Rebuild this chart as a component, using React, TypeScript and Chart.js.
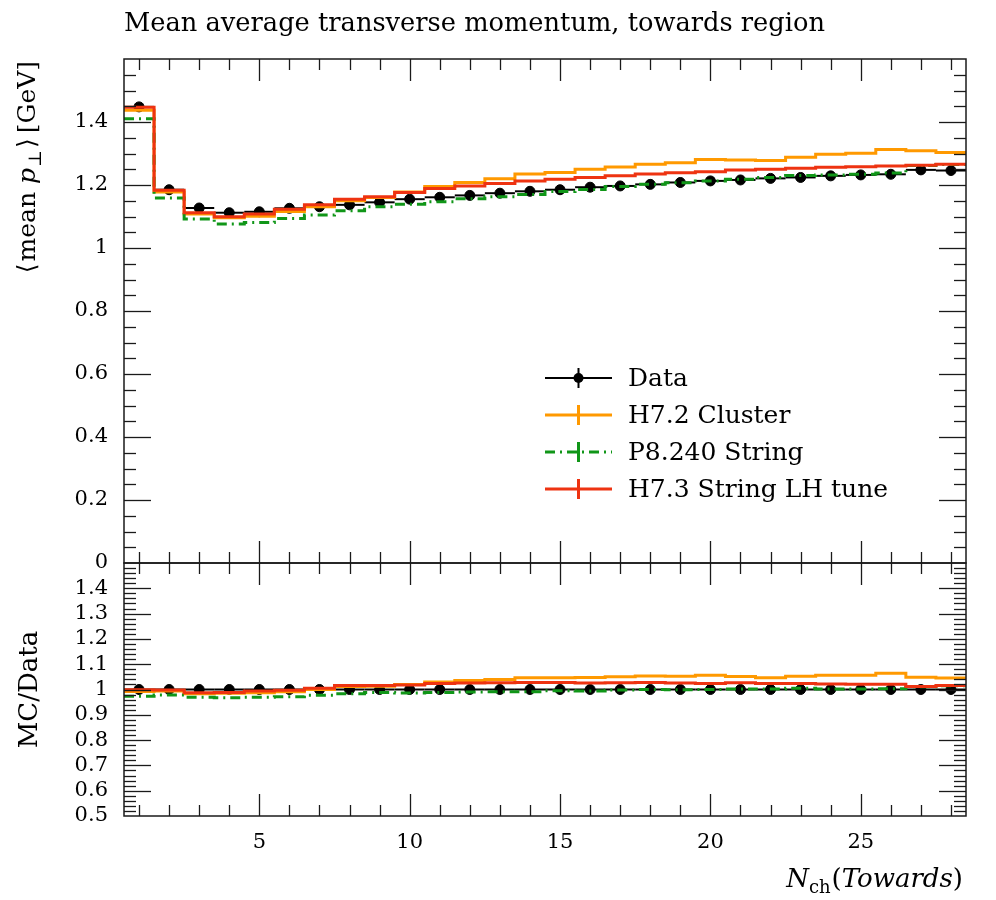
import React, { useEffect, useRef } from "react";
import { Chart, registerables } from "chart.js";

Chart.register(...registerables);

// ---------- data ----------
const BIN_CENTERS = [
  1, 2, 3, 4, 5, 6, 7, 8, 9, 10, 11, 12, 13, 14, 15, 16, 17, 18, 19, 20, 21, 22, 23, 24, 25, 26, 27, 28,
];
const DATA = [
  1.448, 1.185, 1.127, 1.112, 1.115, 1.126, 1.131, 1.137, 1.145, 1.155, 1.161, 1.167, 1.174, 1.18,
  1.185, 1.193, 1.197, 1.202, 1.208, 1.213, 1.216, 1.221, 1.224, 1.229, 1.232, 1.234, 1.248, 1.246,
];
const H72_CLUSTER = [
  1.437, 1.178, 1.108, 1.096, 1.101, 1.116, 1.131, 1.15, 1.16, 1.178, 1.195, 1.208, 1.22, 1.235,
  1.24, 1.25, 1.257, 1.266, 1.271, 1.281, 1.279, 1.278, 1.288, 1.298, 1.301, 1.313, 1.309, 1.303,
];
const P8_STRING = [
  1.41, 1.159, 1.092, 1.076, 1.081, 1.094, 1.105, 1.118, 1.131, 1.139, 1.147, 1.156, 1.163, 1.17,
  1.179, 1.186, 1.195, 1.202, 1.207, 1.213, 1.218, 1.224, 1.23, 1.232, 1.234, 1.238, 1.262, 1.265,
];
const H73_STRING_LH = [
  1.447, 1.183, 1.112, 1.099, 1.108, 1.123, 1.137, 1.155, 1.163, 1.176, 1.189, 1.197, 1.205, 1.213,
  1.218, 1.224, 1.229, 1.235, 1.239, 1.242, 1.248, 1.25, 1.253, 1.256, 1.258, 1.26, 1.263, 1.266,
];
const X_TICK_LABELS = [5, 10, 15, 20, 25];
const Y_MAIN_TICKS = [0, 0.2, 0.4, 0.6, 0.8, 1, 1.2, 1.4];
const Y_RATIO_TICKS = [0.5, 0.6, 0.7, 0.8, 0.9, 1, 1.1, 1.2, 1.3, 1.4];
const LEGEND_LABELS = ["Data", "H7.2 Cluster", "P8.240 String", "H7.3 String LH tune"];
const TITLE = "Mean average transverse momentum, towards region";
const RATIO_LABEL = "MC/Data";

// ---------- styles ----------
const FONT = '"DejaVu Serif", "Liberation Serif", serif';
const C_DATA = "#000000";
const C_H72 = "#ff9900";
const C_P8 = "#109618";
const C_H73 = "#ee3311";
const DASH_P8 = [10, 5, 2, 5];

type Seg = { t: string; italic?: boolean; sub?: boolean; gap?: number };
const Y_LABEL: Seg[] = [
  { t: "\u27E8", gap: 2 },
  { t: "mean " },
  { t: "p", italic: true, gap: 1 },
  { t: "\u22A5", sub: true, gap: 2 },
  { t: "\u27E9", gap: 5 },
  { t: "[GeV]" },
];
const X_LABEL: Seg[] = [
  { t: "N", italic: true },
  { t: "ch", sub: true, gap: 1 },
  { t: "(" },
  { t: "Towards", italic: true },
  { t: ")" },
];

function stepPoints(vals: number[]) {
  const pts = BIN_CENTERS.map((c, i) => ({ x: c - 0.5, y: vals[i] }));
  pts.push({ x: BIN_CENTERS[BIN_CENTERS.length - 1] + 0.5, y: vals[vals.length - 1] });
  return pts;
}
const ratioOf = (vals: number[]) => vals.map((v, i) => v / DATA[i]);
const fmt = (v: number) => String(Math.round(v * 1000) / 1000);

function segFont(s: Seg, size: number) {
  return `${s.italic ? "italic " : ""}${s.sub ? Math.round(size * 0.7) : size}px ${FONT}`;
}
function segsWidth(ctx: CanvasRenderingContext2D, segs: Seg[], size: number) {
  let w = 0;
  for (const s of segs) {
    ctx.font = segFont(s, size);
    w += ctx.measureText(s.t).width + (s.gap || 0);
  }
  return w;
}
function drawSegs(ctx: CanvasRenderingContext2D, segs: Seg[], size: number, x: number, y: number) {
  let cx = x;
  for (const s of segs) {
    ctx.font = segFont(s, size);
    ctx.fillText(s.t, cx, y + (s.sub ? size * 0.22 : 0));
    cx += ctx.measureText(s.t).width + (s.gap || 0);
  }
}

function line(ctx: CanvasRenderingContext2D, x1: number, y1: number, x2: number, y2: number) {
  ctx.beginPath();
  ctx.moveTo(x1, y1);
  ctx.lineTo(x2, y2);
  ctx.stroke();
}

const rivetPlugin = {
  id: "rivet",
  beforeDatasetsDraw(chart: any) {
    const ctx: CanvasRenderingContext2D = chart.ctx;
    const xs = chart.scales.x;
    const ys = chart.scales.y;
    const yr = chart.scales.yr;
    ctx.save();
    ctx.strokeStyle = C_DATA;
    ctx.lineWidth = 2;
    BIN_CENTERS.forEach((c, i) => {
      const x1 = xs.getPixelForValue(c - 0.5);
      const x2 = xs.getPixelForValue(c + 0.5);
      const y = ys.getPixelForValue(DATA[i]);
      line(ctx, x1, y, x2, y);
      const y2 = yr.getPixelForValue(DATA[i] / DATA[i]);
      line(ctx, x1, y2, x2, y2);
    });
    ctx.restore();
  },
  afterDraw(chart: any) {
    const ctx: CanvasRenderingContext2D = chart.ctx;
    const { left, right } = chart.chartArea;
    const xs = chart.scales.x;
    const ys = chart.scales.y;
    const yr = chart.scales.yr;
    ctx.save();
    ctx.strokeStyle = "#1a1a1a";
    const panels = [
      { s: ys, min: 0, max: 1.6, step: 0.05, every: 4 },
      { s: yr, min: 0.5, max: 1.5, step: 0.02, every: 5 },
    ];
    for (const p of panels) {
      const top = p.s.top;
      const bottom = p.s.bottom;
      ctx.lineWidth = 1.3;
      const n = Math.round((p.max - p.min) / p.step);
      for (let k = 1; k < n; k++) {
        const y = Math.round(p.s.getPixelForValue(p.min + k * p.step)) + 0.5;
        const len = k % p.every === 0 ? 27 : 12;
        line(ctx, left, y, left + len, y);
        line(ctx, right, y, right - len, y);
      }
      for (let c = 1; c <= 28; c++) {
        const x = Math.round(xs.getPixelForValue(c)) + 0.5;
        const len = c % 5 === 0 ? 22 : 11;
        line(ctx, x, top, x, top + len);
        line(ctx, x, bottom, x, bottom - len);
      }
      ctx.lineWidth = 1.5;
      ctx.strokeRect(left, top, right - left, bottom - top);
    }

    // legend
    const lx1 = left + 421;
    const lx2 = left + 488;
    const lxc = (lx1 + lx2) / 2;
    const ly0 = ys.top + 319;
    const rowH = 37;
    const styles = [
      { c: C_DATA, w: 2, dash: [] as number[] },
      { c: C_H72, w: 3, dash: [] as number[] },
      { c: C_P8, w: 3, dash: DASH_P8 },
      { c: C_H73, w: 3, dash: [] as number[] },
    ];
    LEGEND_LABELS.forEach((lab, i) => {
      const y = ly0 + i * rowH;
      const st = styles[i];
      ctx.strokeStyle = st.c;
      ctx.lineWidth = st.w;
      ctx.setLineDash(st.dash);
      line(ctx, lx1, y, lx2, y);
      ctx.setLineDash([]);
      line(ctx, lxc, y - 10, lxc, y + 10);
      if (i === 0) {
        ctx.fillStyle = C_DATA;
        ctx.beginPath();
        ctx.arc(lxc, y, 5, 0, Math.PI * 2);
        ctx.fill();
      }
      ctx.fillStyle = "#000";
      ctx.font = `25px ${FONT}`;
      ctx.textBaseline = "middle";
      ctx.textAlign = "left";
      ctx.fillText(lab, left + 504, y + 1);
    });

    // axis labels
    ctx.fillStyle = "#000";
    ctx.textBaseline = "alphabetic";
    ctx.textAlign = "left";
    const size = 25;
    const wy = segsWidth(ctx, Y_LABEL, size);
    ctx.save();
    ctx.translate(35, ys.top + 2 + wy);
    ctx.rotate(-Math.PI / 2);
    drawSegs(ctx, Y_LABEL, size, 0, 0);
    ctx.restore();
    ctx.save();
    ctx.font = `26px ${FONT}`;
    ctx.translate(37, (yr.top + yr.bottom) / 2);
    ctx.rotate(-Math.PI / 2);
    ctx.textAlign = "center";
    ctx.fillText(RATIO_LABEL, 0, 0);
    ctx.restore();
    const wx = segsWidth(ctx, X_LABEL, 26);
    drawSegs(ctx, X_LABEL, 26, right - 3 - wx, 887);
    ctx.restore();
  },
};

export default function App() {
  const ref = useRef<HTMLCanvasElement>(null);
  useEffect(() => {
    if (!ref.current) return;
    const tickFont = { family: FONT, size: 21 };
    const mcStep = (label: string, vals: number[], color: string, order: number, axis: string, dash: number[] = []) => ({
      label,
      data: stepPoints(vals),
      yAxisID: axis,
      borderColor: color,
      backgroundColor: color,
      borderWidth: 3,
      borderDash: dash,
      stepped: true,
      pointRadius: 0,
      fill: false,
      order,
    });
    const dataPts = (vals: number[], axis: string) => ({
      label: "Data",
      data: BIN_CENTERS.map((c, i) => ({ x: c, y: vals[i] })),
      yAxisID: axis,
      showLine: false,
      pointRadius: 5,
      pointBackgroundColor: C_DATA,
      pointBorderColor: C_DATA,
      borderColor: C_DATA,
      backgroundColor: C_DATA,
      order: 10,
    });
    const chart = new Chart(ref.current, {
      type: "line",
      data: {
        datasets: [
          dataPts(DATA, "y"),
          mcStep("H7.2 Cluster", H72_CLUSTER, C_H72, 3, "y"),
          mcStep("P8.240 String", P8_STRING, C_P8, 2, "y", DASH_P8),
          mcStep("H7.3 String LH tune", H73_STRING_LH, C_H73, 1, "y"),
          dataPts(ratioOf(DATA), "yr"),
          mcStep("H7.2 Cluster", ratioOf(H72_CLUSTER), C_H72, 3, "yr"),
          mcStep("P8.240 String", ratioOf(P8_STRING), C_P8, 2, "yr", DASH_P8),
          mcStep("H7.3 String LH tune", ratioOf(H73_STRING_LH), C_H73, 1, "yr"),
        ] as any,
      },
      options: {
        responsive: false,
        animation: false,
        devicePixelRatio: 1,
        layout: { padding: { left: 0, right: 30, top: 0, bottom: 0 } },
        plugins: {
          legend: { display: false },
          tooltip: { enabled: false },
          title: {
            display: true,
            text: TITLE,
            align: "start",
            fullSize: false,
            color: "#000",
            font: { family: FONT, size: 25.7, weight: "normal" },
            padding: { top: 8.5, bottom: 19.66 },
          },
        },
        scales: {
          x: {
            type: "linear",
            min: 0.5,
            max: 28.5,
            afterBuildTicks: (s: any) => {
              s.ticks = X_TICK_LABELS.map((v) => ({ value: v }));
            },
            afterFit: (s: any) => {
              s.height = 84;
            },
            grid: { display: false, drawTicks: false },
            border: { display: false },
            ticks: { color: "#000", font: tickFont, padding: 14, maxRotation: 0, autoSkip: false, callback: (v: any) => fmt(Number(v)) },
          },
          y: {
            type: "linear",
            position: "left",
            stack: "v",
            stackWeight: 504,
            weight: 2,
            min: 0,
            max: 1.6,
            afterBuildTicks: (s: any) => {
              s.ticks = Y_MAIN_TICKS.map((v) => ({ value: v }));
            },
            afterFit: (s: any) => {
              s.width = 124;
            },
            grid: { display: false, drawTicks: false },
            border: { display: false },
            ticks: { color: "#000", font: tickFont, padding: 16, autoSkip: false, callback: (v: any) => fmt(Number(v)) },
          },
          yr: {
            type: "linear",
            position: "left",
            stack: "v",
            stackWeight: 253,
            weight: 1,
            min: 0.5,
            max: 1.5,
            afterBuildTicks: (s: any) => {
              s.ticks = Y_RATIO_TICKS.map((v) => ({ value: v }));
            },
            afterFit: (s: any) => {
              s.width = 124;
            },
            grid: { display: false, drawTicks: false },
            border: { display: false },
            ticks: { color: "#000", font: tickFont, padding: 16, autoSkip: false, callback: (v: any) => fmt(Number(v)) },
          },
        },
      } as any,
      plugins: [rivetPlugin],
    });
    return () => chart.destroy();
  }, []);
  return (
    <div style={{ position: "absolute", left: 0, top: 0, width: 996, height: 900, background: "#fff" }}>
      <canvas ref={ref} width={996} height={900} style={{ width: 996, height: 900, display: "block" }} />
    </div>
  );
}
